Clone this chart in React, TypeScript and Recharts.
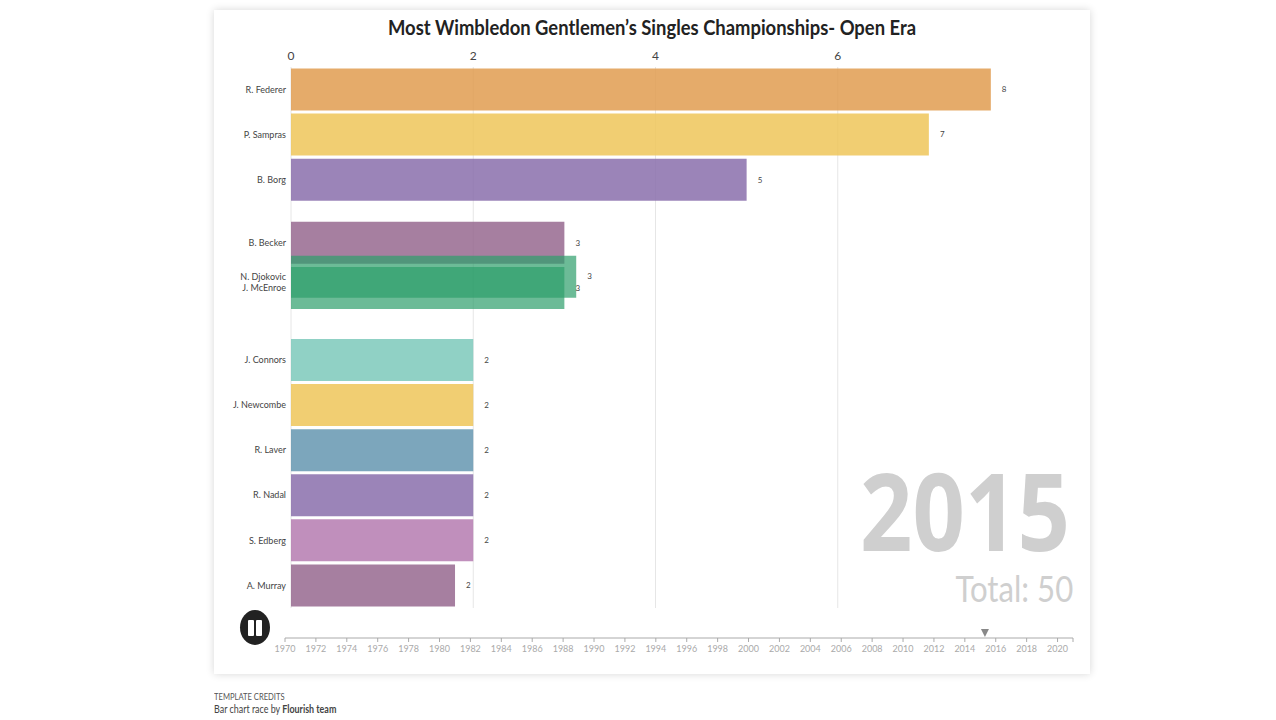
import React from 'react';
import { BarChart, Bar, Cell, XAxis, YAxis, CartesianGrid, LabelList, ScatterChart, Scatter, Rectangle } from 'recharts';

const players = ['R. Federer', 'P. Sampras', 'B. Borg', 'B. Becker', 'J. McEnroe', 'N. Djokovic', 'J. Connors', 'J. Newcombe', 'R. Laver', 'R. Nadal', 'S. Edberg', 'A. Murray'];
// mid-race frame, so bars are not on whole numbers or whole rows
const titles = [7.68, 7, 5, 3, 3, 3.13, 2, 2, 2, 2, 2, 1.8];
const shownTitles = ['8', '7', '5', '3', '3', '3', '2', '2', '2', '2', '2', '2'];
const rows = [1, 2, 3, 4.4, 5.4, 5.15, 7, 8, 9, 10, 11, 12];
const colors = ['#e09c50', '#eec659', '#8a6fab', '#96688f', '#2e9e6b', '#2e9e6b', '#7cc9bb', '#eec659', '#6596b0', '#8a6fab', '#b57bb0', '#96688f'];
const valueTicks = [0, 2, 4, 6];
const yearTicks = [1970, 1972, 1974, 1976, 1978, 1980, 1982, 1984, 1986, 1988, 1990, 1992, 1994, 1996, 1998, 2000, 2002, 2004, 2006, 2008, 2010, 2012, 2014, 2016, 2018, 2020, 2021];
const currentYear = [{ year: 2015.3, y: 0.36 }];

const data = players.map((name, i) => ({ name, value: titles[i], row: rows[i], shown: shownTitles[i] }));
const font = 'Lato, sans-serif';

const Marker = (props: any) => (
  <path d={`M${props.cx - 4} ${props.cy - 4}L${props.cx + 4} ${props.cy - 4}L${props.cx} ${props.cy + 4}Z`} fill="#888" />
);

// rows are not evenly spaced, so recharts would shrink the band to the closest pair
const RowBar = (props: any) => (
  <Rectangle {...props} y={props.y + props.height / 2 - 21} height={42} />
);

export default function App() {
  return (
    <div style={{ position: 'absolute', left: 0, top: 0, width: 1276, height: 720, background: '#fff', overflow: 'hidden', fontFamily: font }}>
      <div style={{ position: 'absolute', left: 214, top: 10, width: 876, height: 664, background: '#fff', boxShadow: '0 0 8px rgba(0,0,0,0.16)' }} />
      <div style={{ position: 'absolute', left: 214, width: 876, top: 14, textAlign: 'center', fontSize: 21, fontWeight: 700, color: '#222', whiteSpace: 'nowrap', transform: 'scaleX(0.877)' }}>
        Most Wimbledon Gentlemen’s Singles Championships- Open Era
      </div>

      <div style={{ position: 'absolute', left: 0, top: 0 }}>
        <BarChart width={1276} height={620} data={data} layout="vertical" margin={{ top: 47, right: 256, bottom: 12, left: 181 }}>
          <CartesianGrid horizontal={false} stroke="#e6e6e6" verticalValues={valueTicks} />
          <XAxis type="number" orientation="top" domain={[0, 8]} ticks={valueTicks} height={20} axisLine={false} tickLine={false} tickMargin={1} tick={{ fontSize: 12, fill: '#444', fontFamily: font }} />
          <YAxis type="number" dataKey="row" domain={[0.5, 12.5]} ticks={rows} interval={0} width={110} axisLine={false} tickLine={false} tickSize={0} tickMargin={5}
            tickFormatter={(v: number) => players[rows.indexOf(v)]} tick={{ fontSize: 9, fill: '#444', fontFamily: font }} />
          <Bar dataKey="value" shape={RowBar} isAnimationActive={false}>
            {data.map((d, i) => <Cell key={d.name} fill={colors[i]} fillOpacity={d.name === 'J. McEnroe' || d.name === 'N. Djokovic' ? 0.7 : 0.85} />)}
            <LabelList dataKey="shown" position="right" offset={11} style={{ fontSize: 8, fill: '#444', fontFamily: font }} />
          </Bar>
        </BarChart>
      </div>

      <div style={{ position: 'absolute', left: 0, top: 620 }}>
        <ScatterChart width={1276} height={50} margin={{ top: 4, right: 203, bottom: 2, left: 285 }}>
          <XAxis type="number" dataKey="year" domain={[1970, 2021]} ticks={yearTicks} interval={0} height={30} stroke="#aaa" tickSize={4} tickMargin={4}
            tickFormatter={(v: number) => (v === 2021 ? '' : String(v))} tick={{ fontSize: 9, fill: '#aaa', fontFamily: font }} />
          <YAxis type="number" dataKey="y" domain={[0, 1]} hide />
          <Scatter data={currentYear} shape={Marker} isAnimationActive={false} />
        </ScatterChart>
      </div>

      <div style={{ position: 'absolute', left: 240, top: 610, width: 30, height: 35, borderRadius: '50%', background: '#222' }}>
        <div style={{ position: 'absolute', left: 8, top: 10, width: 6, height: 16, background: '#fff', borderRadius: 1 }} />
        <div style={{ position: 'absolute', left: 16, top: 10, width: 6, height: 16, background: '#fff', borderRadius: 1 }} />
      </div>

      <div style={{ position: 'absolute', right: 206, top: 456, fontFamily: '"Noto Sans", sans-serif', fontSize: 108, fontWeight: 700, lineHeight: '108px', color: '#cfcfcf', transform: 'scaleX(0.85)', transformOrigin: 'right center' }}>2015</div>
      <div style={{ position: 'absolute', right: 203, top: 566, fontSize: 36, lineHeight: '44px', color: '#cfcfcf', whiteSpace: 'nowrap', transform: 'scaleX(0.865)', transformOrigin: 'right center' }}>Total: 50</div>

      <div style={{ position: 'absolute', left: 214, top: 691, fontSize: 9.5, color: '#555', whiteSpace: 'nowrap', transform: 'scaleX(0.8)', transformOrigin: 'left center' }}>TEMPLATE CREDITS</div>
      <div style={{ position: 'absolute', left: 214, top: 703, fontSize: 10.5, color: '#444', whiteSpace: 'nowrap', transform: 'scaleX(0.85)', transformOrigin: 'left center' }}>Bar chart race by <b>Flourish team</b></div>
    </div>
  );
}
